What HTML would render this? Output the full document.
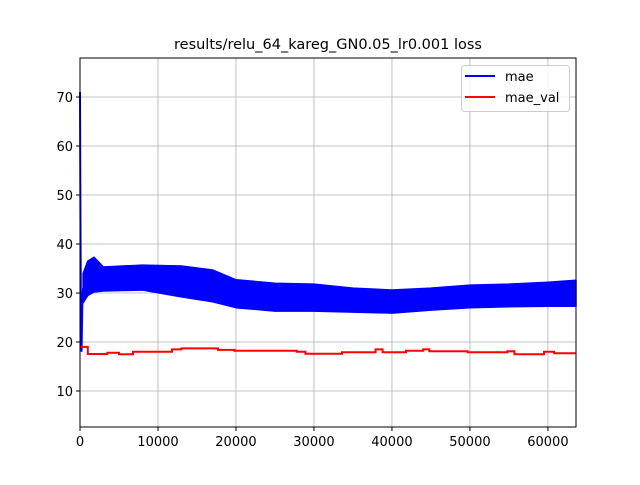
<!DOCTYPE html>
<html><head><meta charset="utf-8"><style>
body{margin:0;background:#fff}
svg text{font-family:"DejaVu Sans","Liberation Sans",sans-serif}
</style></head><body>
<svg id="chart" width="640" height="480" xmlns="http://www.w3.org/2000/svg">
<rect width="640" height="480" fill="#fff"/>
<g id="grid"></g>
<g id="series"></g>
<rect x="80" y="58" width="496" height="369" fill="none" stroke="#000" stroke-width="1"/>
<g id="ticks"></g>
<text x="328" y="49" text-anchor="middle" font-size="14.5">results/relu_64_kareg_GN0.05_lr0.001 loss</text>
<g>
<rect x="461.5" y="65.5" width="108" height="46" rx="3" fill="#fff" fill-opacity="0.8" stroke="#ccc"/>
<line x1="465" y1="76" x2="495" y2="76" stroke="#00f" stroke-width="2"/>
<text x="505" y="81" font-size="13">mae</text>
<line x1="465" y1="97" x2="495" y2="97" stroke="#f00" stroke-width="2"/>
<text x="505" y="102" font-size="13">mae_val</text>
</g>
</svg>
<script>
const xTicks=[0,10000,20000,30000,40000,50000,60000];
const yTicks=[10,20,30,40,50,60,70];
const startX=[0,60,120,200,300,400];
const startY=[71,45,25,18,28,31];
const envX=[400,1000,1800,3000,8000,13000,17000,20000,25000,30000,35000,40000,45000,50000,55000,60000,63600];
const envTop=[34,36.5,37.3,35.3,35.7,35.5,34.7,32.7,32,31.8,31,30.6,31,31.6,31.8,32.2,32.6];
const envBot=[28,29.5,30.2,30.4,30.6,29.2,28.2,27,26.3,26.3,26.1,25.9,26.5,27,27.2,27.3,27.3];
const valX=[0,1000,3500,5000,6800,11800,13000,17700,19800,27800,28900,33600,37900,38800,41800,44000,44800,49700,54800,55700,59500,60800,63600];
const valY=[19.0,17.55,17.8,17.5,18.0,18.5,18.7,18.4,18.2,18.0,17.6,17.9,18.5,17.9,18.2,18.5,18.1,17.9,18.1,17.5,18.0,17.7,17.7];
const X0=80,X1=576,Y0=427,Y1=58,xmin=0,xmax=63600,ymin=2.65,ymax=77.96;
const sx=v=>X0+(v-xmin)/(xmax-xmin)*(X1-X0);
const sy=v=>Y0-(v-ymin)/(ymax-ymin)*(Y0-Y1);
const NS="http://www.w3.org/2000/svg";
function mk(t,a,p){const e=document.createElementNS(NS,t);for(const k in a)e.setAttribute(k,a[k]);p.appendChild(e);return e;}
const grid=document.getElementById('grid'),ticks=document.getElementById('ticks'),ser=document.getElementById('series');
xTicks.forEach(v=>{const x=sx(v);
const g=mk('line',{x1:x,x2:x,y1:Y1,y2:Y0,stroke:'#b0b0b0','stroke-width':0.8},grid);

const t=mk('line',{x1:x,x2:x,y1:Y0,y2:Y0+4,stroke:'#000'},ticks);

const l=mk('text',{x:x,y:Y0+19,'text-anchor':'middle','font-size':13},ticks);l.textContent=v;
});
yTicks.forEach(v=>{const y=sy(v);
const g=mk('line',{x1:X0,x2:X1,y1:y,y2:y,stroke:'#b0b0b0','stroke-width':0.8},grid);

const t=mk('line',{x1:X0-4,x2:X0,y1:y,y2:y,stroke:'#000'},ticks);

const l=mk('text',{x:X0-7,y:y+5,'text-anchor':'end','font-size':13},ticks);l.textContent=v;
});
let pts=envX.map((x,i)=>sx(x)+','+sy(envTop[i]));
for(let i=envX.length-1;i>=0;i--)pts.push(sx(envX[i])+','+sy(envBot[i]));
const band=mk('polygon',{points:pts.join(' '),fill:'#00f',stroke:'#00f','stroke-width':1.5,'stroke-linejoin':'round'},ser);

const sp=mk('polyline',{points:startX.map((x,i)=>sx(x)+','+sy(startY[i])).join(' '),fill:'none',stroke:'#00f','stroke-width':2},ser);

let rp=[];valX.forEach((x,i)=>{if(i>0)rp.push(sx(x)+','+sy(valY[i-1]));rp.push(sx(x)+','+sy(valY[i]));});
const rl=mk('polyline',{points:rp.join(' '),fill:'none',stroke:'#f00','stroke-width':2},ser);

</script>
</body></html>
